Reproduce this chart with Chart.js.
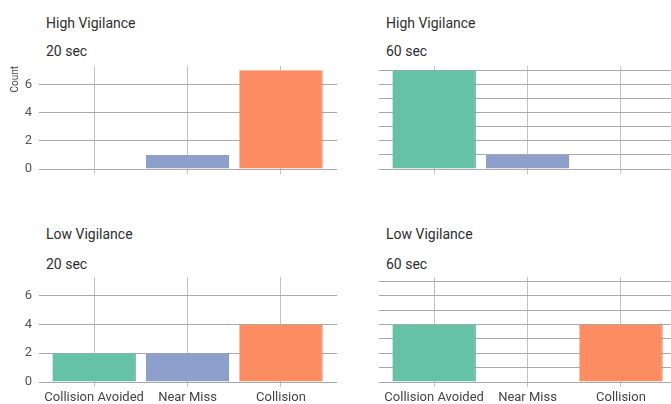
<!DOCTYPE html>
<html>
<head>
<meta charset="utf-8">
<script src="https://cdn.jsdelivr.net/npm/chart.js@4/dist/chart.umd.min.js"></script>
<style>
  html, body { margin: 0; padding: 0; background: #fff; width: 671px; height: 404px; overflow: hidden; position: relative; }
  canvas { position: absolute; }
  .ttl { position: absolute; font: 14px Roboto, sans-serif; line-height: 16px; color: #2e2e2e; white-space: nowrap; }
</style>
</head>
<body>
<script>
// Outcome categories and their colours
const outcomes = ['Collision Avoided', 'Near Miss', 'Collision'];
const outcomeColors = ['#66c2a5', '#8da0cb', '#fc8d62'];
const outcomeEdges = ['#4f9a83', '#6c7ea6', '#c0694a'];

// Counts per outcome for each vigilance / warning-time condition
const highVig20 = [0, 1, 7];
const highVig60 = [7, 1, 0];
const lowVig20 = [2, 2, 4];
const lowVig60 = [4, 0, 4];

// Count axis: gridline at every step, labels on even values
const countTicks = [0, 1, 2, 3, 4, 5, 6, 7];
const countLabels = [0, 2, 4, 6];

const panels = [
  { group: 'High Vigilance', time: '20 sec', values: highVig20, x: 0,   y: 0,   h: 200, padTop: 66, axisH: 31, yLabels: true,  xLabels: false, countTitle: true },
  { group: 'High Vigilance', time: '60 sec', values: highVig60, x: 340, y: 0,   h: 200, padTop: 66, axisH: 31, yLabels: false, xLabels: false, countTitle: false },
  { group: 'Low Vigilance',  time: '20 sec', values: lowVig20,  x: 0,   y: 200, h: 204, padTop: 77, axisH: 22, yLabels: true,  xLabels: true,  countTitle: false },
  { group: 'Low Vigilance',  time: '60 sec', values: lowVig60,  x: 340, y: 200, h: 204, padTop: 77, axisH: 22, yLabels: false, xLabels: true,  countTitle: false }
];

function addText(text, left, top) {
  const d = document.createElement('div');
  d.className = 'ttl';
  d.textContent = text;
  d.style.left = left + 'px';
  d.style.top = top + 'px';
  document.body.appendChild(d);
}

panels.forEach(p => {
  // panel headings: group on the first line, warning time below
  addText(p.group, p.x + 46, p.y + (p.y ? 26 : 15));
  addText(p.time, p.x + 46, p.y + (p.y ? 56 : 43));

  const cv = document.createElement('canvas');
  cv.width = 337;
  cv.height = p.h;
  cv.style.left = p.x + 'px';
  cv.style.top = p.y + 'px';
  document.body.appendChild(cv);

  new Chart(cv, {
    type: 'bar',
    data: {
      datasets: [{
        data: p.values.map((v, i) => ({ x: i, y: v })),
        backgroundColor: outcomeColors,
        borderColor: outcomeEdges,
        borderWidth: { top: 0, right: 1, bottom: 0, left: 0 },
        borderSkipped: false,
        categoryPercentage: 1,
        barPercentage: 0.893
      }]
    },
    options: {
      responsive: false,
      animation: false,
      devicePixelRatio: 1,
      layout: { padding: { top: p.padTop, left: 0, right: 0, bottom: 0 } },
      plugins: { legend: { display: false }, tooltip: { enabled: false } },
      scales: {
        x: {
          type: 'linear',
          bounds: 'data',
          min: -0.59,
          max: 2.6,
          offset: false,
          afterBuildTicks: s => { s.ticks = outcomes.map((_, i) => ({ value: i })); },
          afterFit: s => { s.height = p.axisH; },
          ticks: {
            display: p.xLabels,
            callback: v => outcomes[v],
            font: { family: 'Roboto', size: 13 },
            color: '#444',
            padding: 3,
            maxRotation: 0,
            autoSkip: false
          },
          grid: { offset: false, color: '#c2c2c2', tickColor: '#c2c2c2', tickLength: 5, drawTicks: true },
          border: { display: false }
        },
        y: {
          bounds: 'data',
          min: 0,
          max: 7.3,
          afterBuildTicks: s => { s.ticks = countTicks.map(v => ({ value: v })); },
          afterFit: s => { s.width = 39; },
          ticks: {
            display: p.yLabels,
            callback: v => countLabels.includes(v) ? String(v) : '',
            font: { family: 'Roboto', size: 13 },
            color: '#555',
            padding: 7
          },
          grid: { color: '#a9a9a9', drawTicks: false },
          border: { display: false },
          title: {
            display: p.countTitle,
            text: 'Count',
            align: 'end',
            color: '#444',
            font: { family: 'Roboto', size: 10 },
            padding: { top: 9, bottom: 0 }
          }
        }
      }
    }
  });
});
</script>
</body>
</html>
